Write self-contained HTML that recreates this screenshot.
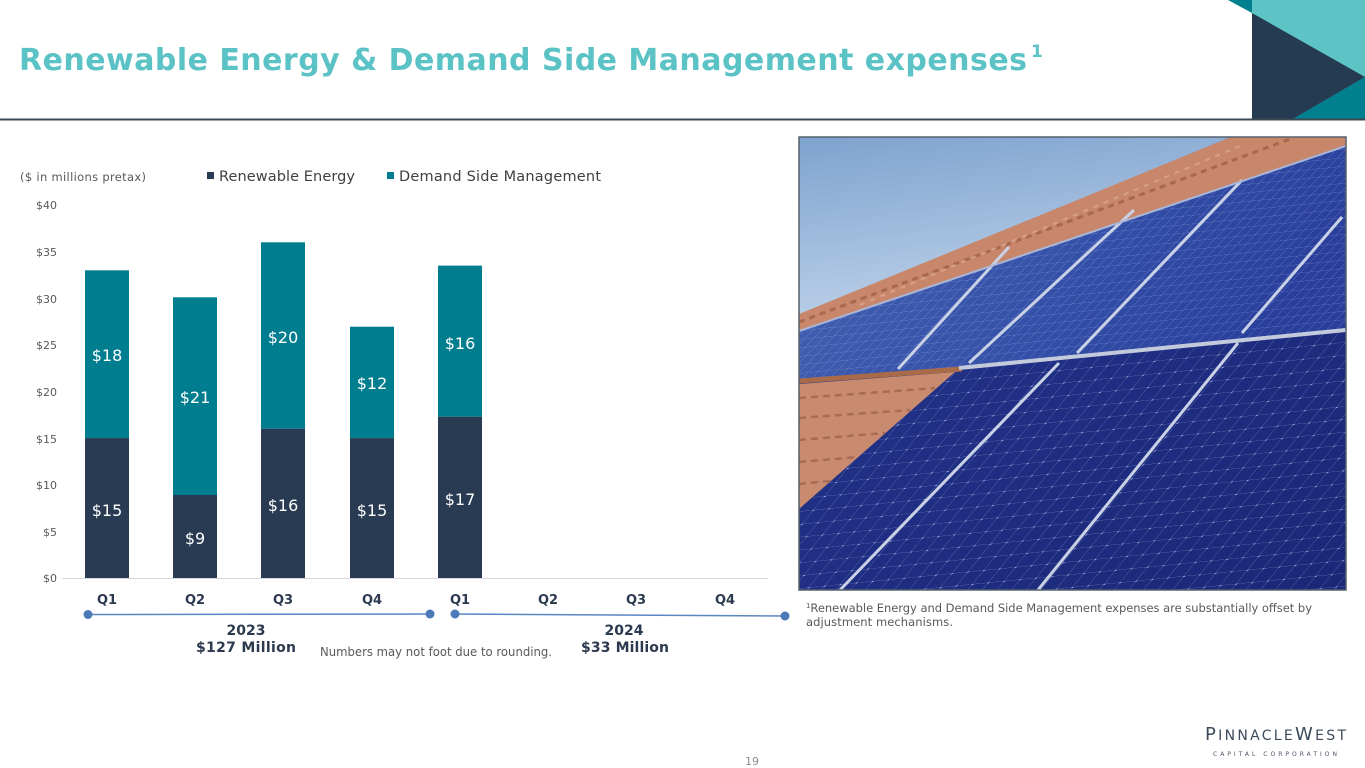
<!DOCTYPE html>
<html>
<head>
<meta charset="utf-8">
<style>
html,body{margin:0;padding:0;background:#fff;}
svg{display:block;}
text{font-family:"DejaVu Sans","Liberation Sans",sans-serif;}
</style>
</head>
<body>
<svg width="1365" height="768" viewBox="0 0 1365 768" xmlns="http://www.w3.org/2000/svg">
<defs>
  <linearGradient id="sky" x1="0" y1="0" x2="0.3" y2="1">
    <stop offset="0" stop-color="#7ea2cf"/>
    <stop offset="1" stop-color="#bcd1e8"/>
  </linearGradient>
  <linearGradient id="upper" x1="0" y1="0" x2="1" y2="0.3">
    <stop offset="0" stop-color="#4864b4"/>
    <stop offset="0.6" stop-color="#3450a8"/>
    <stop offset="1" stop-color="#2a3f9c"/>
  </linearGradient>
  <linearGradient id="lower" x1="0" y1="0" x2="1" y2="1">
    <stop offset="0" stop-color="#24358e"/>
    <stop offset="1" stop-color="#1b2878"/>
  </linearGradient>
  <pattern id="cellsU" width="10" height="13" patternUnits="userSpaceOnUse" patternTransform="matrix(0.995 -0.098 -0.69 0.724 0 0)">
    <path d="M0 0 H10 M0 0 V13" stroke="#b9c6ee" stroke-width="1" opacity="0.45" fill="none"/>
  </pattern>
  <pattern id="cellsL" width="16" height="18" patternUnits="userSpaceOnUse" patternTransform="matrix(0.995 -0.098 -0.633 0.775 0 0)">
    <path d="M0 0 H16 M0 0 V18" stroke="#c3ccf0" stroke-width="1" opacity="0.4" fill="none"/>
    <circle cx="0" cy="0" r="1.6" fill="#e8ecff" opacity="0.7"/>
  </pattern>
  <clipPath id="photoClip"><rect x="799" y="137" width="547" height="453"/></clipPath>
</defs>

<!-- Header -->
<text x="19" y="70" font-size="30" font-weight="bold" fill="#5bc2c6" textLength="1008">Renewable Energy &amp; Demand Side Management expenses</text>
<text x="1031" y="57" font-size="17" font-weight="bold" fill="#5bc2c6">1</text>

<rect x="1252" y="0" width="113" height="119" fill="#5dc3c5"/>
<polygon points="1228,0 1252,0 1252,13" fill="#00808f"/>
<polygon points="1252,13 1365,77 1293,119 1252,119" fill="#243b52"/>
<polygon points="1293,119 1365,77 1365,119" fill="#00808f"/>
<rect x="0" y="118.5" width="1365" height="2" fill="#3b4854"/>

<!-- Legend -->
<text x="20" y="181" font-size="11.5" fill="#595959" textLength="126">($ in millions pretax)</text>
<rect x="207" y="172" width="7" height="7" fill="#293b52"/>
<text x="219" y="181" font-size="14.5" fill="#404040" textLength="136">Renewable Energy</text>
<rect x="387" y="172" width="7" height="7" fill="#007e8f"/>
<text x="399" y="181" font-size="14.5" fill="#404040" textLength="202">Demand Side Management</text>

<!-- Y axis labels -->
<g font-size="11" fill="#595959" text-anchor="end">
  <text x="57" y="209">$40</text>
  <text x="57" y="256">$35</text>
  <text x="57" y="303">$30</text>
  <text x="57" y="349">$25</text>
  <text x="57" y="396">$20</text>
  <text x="57" y="443">$15</text>
  <text x="57" y="489">$10</text>
  <text x="57" y="536">$5</text>
  <text x="57" y="582">$0</text>
</g>

<!-- Bars -->
<g>
  <rect x="85" y="270.3" width="44" height="168" fill="#007e8f"/>
  <rect x="85" y="438.1" width="44" height="139.9" fill="#293b52"/>
  <rect x="173" y="297.3" width="44" height="198" fill="#007e8f"/>
  <rect x="173" y="495" width="44" height="83" fill="#293b52"/>
  <rect x="261" y="242.3" width="44" height="186.5" fill="#007e8f"/>
  <rect x="261" y="428.8" width="44" height="149.2" fill="#293b52"/>
  <rect x="350" y="326.7" width="44" height="111.4" fill="#007e8f"/>
  <rect x="350" y="438.1" width="44" height="139.9" fill="#293b52"/>
  <rect x="438" y="265.6" width="44" height="151.1" fill="#007e8f"/>
  <rect x="438" y="416.7" width="44" height="161.3" fill="#293b52"/>
</g>
<line x1="62" y1="578.5" x2="768" y2="578.5" stroke="#d9d9d9" stroke-width="1"/>

<g font-size="16" fill="#ffffff" text-anchor="middle">
  <text x="107" y="361">$18</text>
  <text x="107" y="516">$15</text>
  <text x="195" y="403">$21</text>
  <text x="195" y="544">$9</text>
  <text x="283" y="343">$20</text>
  <text x="283" y="511">$16</text>
  <text x="372" y="389">$12</text>
  <text x="372" y="516">$15</text>
  <text x="460" y="349">$16</text>
  <text x="460" y="505">$17</text>
</g>

<!-- X labels -->
<g font-size="13" font-weight="bold" fill="#2b3a4e" text-anchor="middle">
  <text x="107" y="604">Q1</text>
  <text x="195" y="604">Q2</text>
  <text x="283" y="604">Q3</text>
  <text x="372" y="604">Q4</text>
  <text x="460" y="604">Q1</text>
  <text x="548" y="604">Q2</text>
  <text x="636" y="604">Q3</text>
  <text x="725" y="604">Q4</text>
</g>

<!-- Timelines -->
<line x1="88" y1="614.5" x2="430" y2="614" stroke="#5b86c0" stroke-width="1.5"/>
<circle cx="88" cy="614.5" r="4.5" fill="#4a7ab8"/>
<circle cx="430" cy="614" r="4.5" fill="#4a7ab8"/>
<line x1="455" y1="614" x2="785" y2="616" stroke="#5b86c0" stroke-width="1.5"/>
<circle cx="455" cy="614" r="4.5" fill="#4a7ab8"/>
<circle cx="785" cy="616" r="4.5" fill="#4a7ab8"/>

<g font-size="14" font-weight="bold" fill="#2b3a4e" text-anchor="middle">
  <text x="246" y="635">2023</text>
  <text x="246" y="652" textLength="100">$127 Million</text>
  <text x="624" y="635">2024</text>
  <text x="625" y="652" textLength="88">$33 Million</text>
</g>
<text x="320" y="656" font-size="12" fill="#595959" textLength="232" lengthAdjust="spacingAndGlyphs">Numbers may not foot due to rounding.</text>

<!-- Photo -->
<g clip-path="url(#photoClip)">
  <rect x="799" y="137" width="547" height="453" fill="url(#lower)"/>
  <polygon points="799,330 1346,145 1346,330 959,368 799,379" fill="url(#upper)"/>
  <polygon points="799,330 1346,145 1346,330 959,368 799,379" fill="url(#cellsU)"/>
  <polygon points="955,370 1346,330 1346,590 799,590 799,509" fill="url(#cellsL)"/>
  <!-- lower-left tiles -->
  <polygon points="799,384 955,372 799,509" fill="#c98b70"/>
  <g stroke="#9a5f47" stroke-width="2.5" stroke-dasharray="7 5" opacity="0.7">
    <line x1="799" y1="398" x2="935" y2="388"/>
    <line x1="799" y1="418" x2="910" y2="410"/>
    <line x1="799" y1="440" x2="885" y2="433"/>
    <line x1="799" y1="462" x2="858" y2="457"/>
    <line x1="799" y1="484" x2="830" y2="481"/>
  </g>
  <line x1="799" y1="381" x2="962" y2="369" stroke="#a86a48" stroke-width="5"/>
  <!-- sky -->
  <polygon points="799,137 1231,137 799,316" fill="url(#sky)"/>
  <!-- roof tile band -->
  <polygon points="799,314 1231,137 1346,137 1346,145 799,331" fill="#c8876b"/>
  <line x1="799" y1="322" x2="1290" y2="139" stroke="#9c5e45" stroke-width="3" stroke-dasharray="6 5" opacity="0.75"/>
  <line x1="860" y1="305" x2="1240" y2="146" stroke="#e0b59d" stroke-width="2" stroke-dasharray="5 6" opacity="0.6"/>
  <!-- separators -->
  <g stroke="#c9d1e6" stroke-width="3" fill="none">
    <line x1="1242" y1="180" x2="1077" y2="353"/>
    <line x1="1134" y1="210" x2="969" y2="363"/>
    <line x1="1009" y1="247" x2="898" y2="369"/>
    <line x1="1342" y1="217" x2="1242" y2="333"/>
    <line x1="1238" y1="343" x2="1038" y2="590"/>
    <line x1="1059" y1="363" x2="840" y2="590"/>
  </g>
  <line x1="959" y1="368" x2="1346" y2="330" stroke="#c2cadc" stroke-width="4"/>
  <line x1="799" y1="331" x2="1346" y2="146" stroke="#aab6d8" stroke-width="2"/>
</g>
<rect x="799" y="137" width="547" height="453" fill="none" stroke="#56606c" stroke-width="1.5"/>

<!-- Footnote -->
<text x="806" y="612" font-size="11.5" fill="#595959" textLength="506"><tspan font-size="7" dy="-4">1</tspan><tspan dy="4">Renewable Energy and Demand Side Management expenses are substantially offset by</tspan></text>
<text x="806" y="626" font-size="11.5" fill="#595959" textLength="147">adjustment mechanisms.</text>

<!-- Page number -->
<text x="752" y="765" font-size="11" fill="#8c8c8c" text-anchor="middle">19</text>

<!-- Logo -->
<text x="1205" y="740" font-family="Liberation Serif, serif" fill="#3e4a5c" textLength="141"><tspan font-size="18">P</tspan><tspan font-size="14">INNACLE</tspan><tspan font-size="18">W</tspan><tspan font-size="14">EST</tspan></text>
<text x="1213" y="756" font-family="Liberation Sans, sans-serif" font-size="6" fill="#4a5566" textLength="124">CAPITAL CORPORATION</text>
</svg>
</body>
</html>
